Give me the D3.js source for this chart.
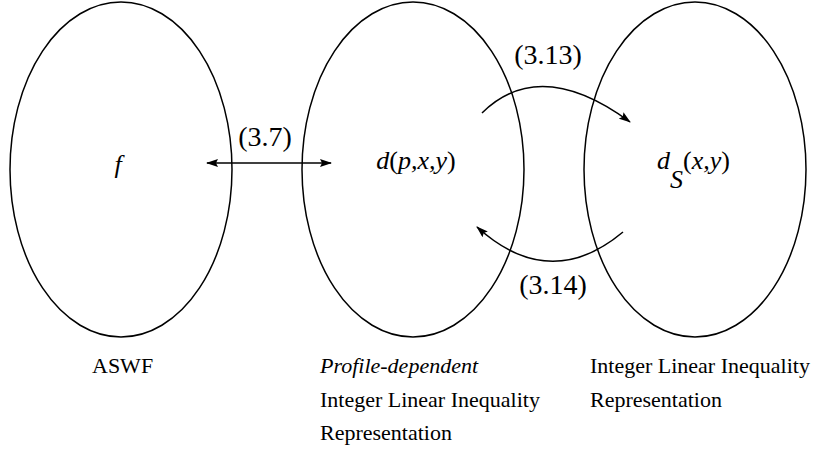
<!DOCTYPE html>
<html>
<head>
<meta charset="utf-8">
<script src="https://cdn.jsdelivr.net/npm/d3@7"></script>
<style>
  body { margin: 0; background: #fff; }
  text { font-family: "Liberation Serif", "Times New Roman", Times, serif; fill: #000; }
</style>
</head>
<body>
<div id="chart"></div>
<script>
// nodes of the diagram
var nodes = ["f", "d", "dS"];
var captions = [
  [{ t: "ASWF", i: false }],
  [{ t: "Profile-dependent", i: true }, { t: "Integer Linear Inequality", i: false }, { t: "Representation", i: false }],
  [{ t: "Integer Linear Inequality", i: false }, { t: "Representation", i: false }]
];
// edges between nodes (equation references)
var edges = [
  { from: 0, to: 1, label: "(3.7)", kind: "both" },
  { from: 1, to: 2, label: "(3.13)", kind: "over" },
  { from: 2, to: 1, label: "(3.14)", kind: "under" }
];

var width = 818,
  height = 450,
  cy = 169.5,
  rx = 111,
  ry = 167.5;

//node centres
var x = d3.scaleOrdinal().domain(nodes).range([121, 413, 695]);

var svg = d3
  .select("#chart")
  .append("svg")
  .attr("width", width)
  .attr("height", height);

//arrow head marker
svg
  .append("defs")
  .append("marker")
  .attr("id", "head")
  .attr("markerUnits", "userSpaceOnUse")
  .attr("markerWidth", 12)
  .attr("markerHeight", 8)
  .attr("refX", 11)
  .attr("refY", 4)
  .attr("orient", "auto-start-reverse")
  .append("path")
  .attr("d", "M0,0 L12,4 L0,8 L2,4 z")
  .attr("fill", "#000");

//the three ellipses
svg
  .selectAll(".node")
  .data(nodes)
  .enter()
  .append("ellipse")
  .attr("class", "node")
  .attr("cx", function(d) { return x(d); })
  .attr("cy", cy)
  .attr("rx", rx)
  .attr("ry", ry)
  .attr("fill", "none")
  .attr("stroke", "#000")
  .attr("stroke-width", 1.5);

//labels inside ellipses
var fs = 26,
  lfs = 28;
svg.append("text")
  .attr("x", x("f") - 3)
  .attr("y", 173)
  .attr("text-anchor", "middle")
  .attr("font-size", fs)
  .style("font-style", "italic")
  .text("f");

var t1 = svg.append("text")
  .attr("x", x("d") + 3)
  .attr("y", 169)
  .attr("text-anchor", "middle")
  .attr("font-size", fs);
t1.append("tspan").style("font-style", "italic").text("d");
t1.append("tspan").text("(");
t1.append("tspan").style("font-style", "italic").text("p,x,y");
t1.append("tspan").text(")");

var t2 = svg.append("text")
  .attr("x", x("dS") - 38)
  .attr("y", 169)
  .attr("font-size", fs);
t2.append("tspan").style("font-style", "italic").text("d");
t2.append("tspan").style("font-style", "italic").attr("dy", 19).text("S");
t2.append("tspan").attr("dy", -19).text("(");
t2.append("tspan").style("font-style", "italic").text("x,y");
t2.append("tspan").text(")");

//edges
edges.forEach(function(e) {
  var a = x(nodes[e.from]),
    b = x(nodes[e.to]),
    mid = (a + b) / 2,
    path, lx, ly;
  var line = svg.append("path")
    .attr("fill", "none")
    .attr("stroke", "#000")
    .attr("stroke-width", 1.5)
    .attr("marker-end", "url(#head)");
  if (e.kind == "both") {
    path = "M" + (a + 86) + "," + (cy - 6.5) + " L" + (b - 82) + "," + (cy - 6.5);
    lx = mid - 2;
    ly = 146;
    line.attr("marker-start", "url(#head)");
  } else if (e.kind == "over") {
    path = "M" + (a + 69) + ",113 Q" + (mid - 14) + ",56 " + (b - 65) + ",122";
    lx = mid - 6;
    ly = 64;
  } else {
    path = "M" + (a - 72) + ",232 Q" + (mid - 4) + ",293 " + (b + 64) + ",227";
    lx = mid - 1;
    ly = 294;
  }
  line.attr("d", path);
  svg.append("text")
    .attr("x", lx)
    .attr("y", ly)
    .attr("text-anchor", "middle")
    .attr("font-size", lfs)
    .text(e.label);
});

//captions below the ellipses
var capX = [92, 320, 590];
captions.forEach(function(lines, i) {
  lines.forEach(function(l, j) {
    svg.append("text")
      .attr("x", capX[i])
      .attr("y", 373 + j * 33.5)
      .attr("font-size", 22)
      .style("font-style", l.i ? "italic" : "normal")
      .text(l.t);
  });
});
</script>
</body>
</html>
